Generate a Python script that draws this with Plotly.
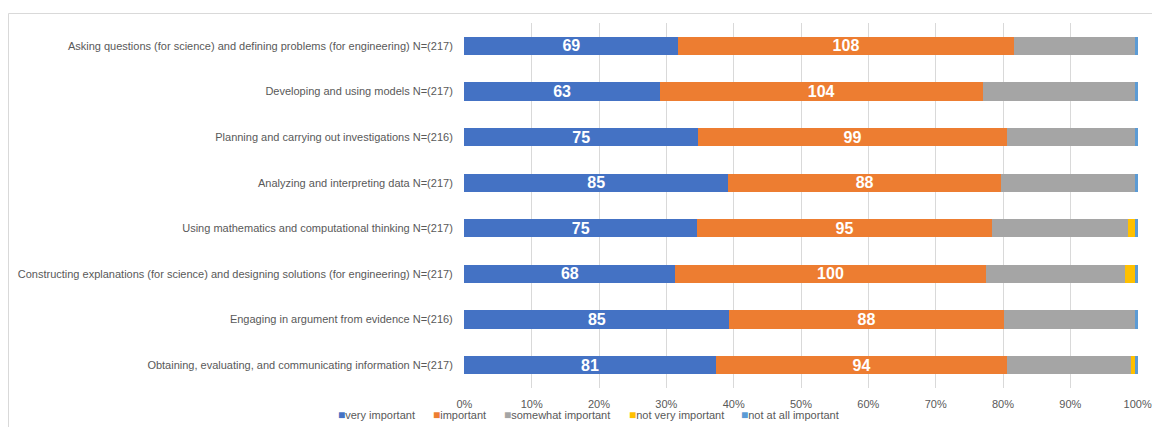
import plotly.graph_objects as go

categories = [
    "Asking questions (for science) and defining problems (for engineering) N=(217)",
    "Developing and using models N=(217)",
    "Planning and carrying out investigations N=(216)",
    "Analyzing and interpreting data N=(217)",
    "Using mathematics and computational thinking N=(217)",
    "Constructing explanations (for science) and designing solutions (for engineering) N=(217)",
    "Engaging in argument from evidence N=(216)",
    "Obtaining, evaluating, and communicating information N=(217)",
]
very_important = [69, 63, 75, 85, 75, 68, 85, 81]
important = [108, 104, 99, 88, 95, 100, 88, 94]
somewhat_important = [39, 49, 41, 43, 44, 45, 42, 40]
not_very_important = [0, 0, 0, 0, 2, 3, 0, 1]
not_at_all_important = [1, 1, 1, 1, 1, 1, 1, 1]
tick_values = [0, 10, 20, 30, 40, 50, 60, 70, 80, 90, 100]
tick_labels = ["0%", "10%", "20%", "30%", "40%", "50%", "60%", "70%", "80%", "90%", "100%"]

series = [
    ("very important", very_important, "#4472C4", True),
    ("important", important, "#ED7D31", True),
    ("somewhat important", somewhat_important, "#A5A5A5", False),
    ("not very important", not_very_important, "#FFC000", False),
    ("not at all important", not_at_all_important, "#5B9BD5", False),
]

totals = [sum(v) for v in zip(*[s[1] for s in series])]

W, H = 1152, 427
L, R, T, B = 464, 14, 23, 39
pw, ph = W - L - R, H - T - B

def px_x(p):
    return (p - L) / pw

def px_y(p):
    return (H - B - p) / ph

fig = go.Figure()
for name, vals, color, show in series:
    pct = [v / t * 100 for v, t in zip(vals, totals)]
    fig.add_trace(go.Bar(
        y=categories, x=pct, name=name, orientation="h",
        marker=dict(color=color, line=dict(width=0)),
        text=[str(v) for v in vals] if show else None,
        textposition="inside" if show else "none",
        insidetextanchor="middle",
        textangle=0,
        constraintext="none",
        textfont=dict(color="white", size=16, family="Liberation Sans"),
        texttemplate="<b>%{text}</b>" if show else None,
        hoverinfo="x+y+name",
        showlegend=False,
    ))

# custom legend (small square markers like the original)
legend_x = [336, 431, 502, 627, 739]
annotations = []
for (name, vals, color, show), lx in zip(series, legend_x):
    annotations.append(dict(
        xref="paper", yref="paper", x=px_x(lx), y=px_y(415),
        xanchor="left", yanchor="middle", showarrow=False,
        text=f"<span style='color:{color};font-size:12px'>■</span>{name}",
        font=dict(size=11, color="#595959", family="Liberation Sans"),
    ))

fig.update_layout(
    barmode="stack",
    bargap=0.6,
    width=W, height=H,
    margin=dict(l=L, r=R, t=T, b=B, autoexpand=False),
    paper_bgcolor="white",
    plot_bgcolor="white",
    font=dict(family="Liberation Sans", size=11, color="#595959"),
    xaxis=dict(
        range=[-0.05, 100.05], tickvals=tick_values, ticktext=tick_labels,
        showgrid=True, gridcolor="#D9D9D9", gridwidth=1,
        zeroline=False, showline=False,
        tickfont=dict(size=11, color="#595959"),
        ticks="outside", ticklen=6, tickcolor="rgba(0,0,0,0)",
        fixedrange=True,
    ),
    yaxis=dict(
        autorange="reversed", showgrid=False, zeroline=False,
        tickfont=dict(size=11, color="#595959"),
        ticks="outside", ticklen=8, tickcolor="rgba(0,0,0,0)",
    ),
    showlegend=False,
    annotations=annotations,
    shapes=[dict(
        type="rect", xref="paper", yref="paper",
        x0=px_x(8.5), x1=px_x(1170), y0=px_y(440), y1=px_y(13.5),
        line=dict(color="#D9D9D9", width=1), fillcolor="rgba(0,0,0,0)",
        layer="below",
    )],
)

fig.write_html("out.html")
